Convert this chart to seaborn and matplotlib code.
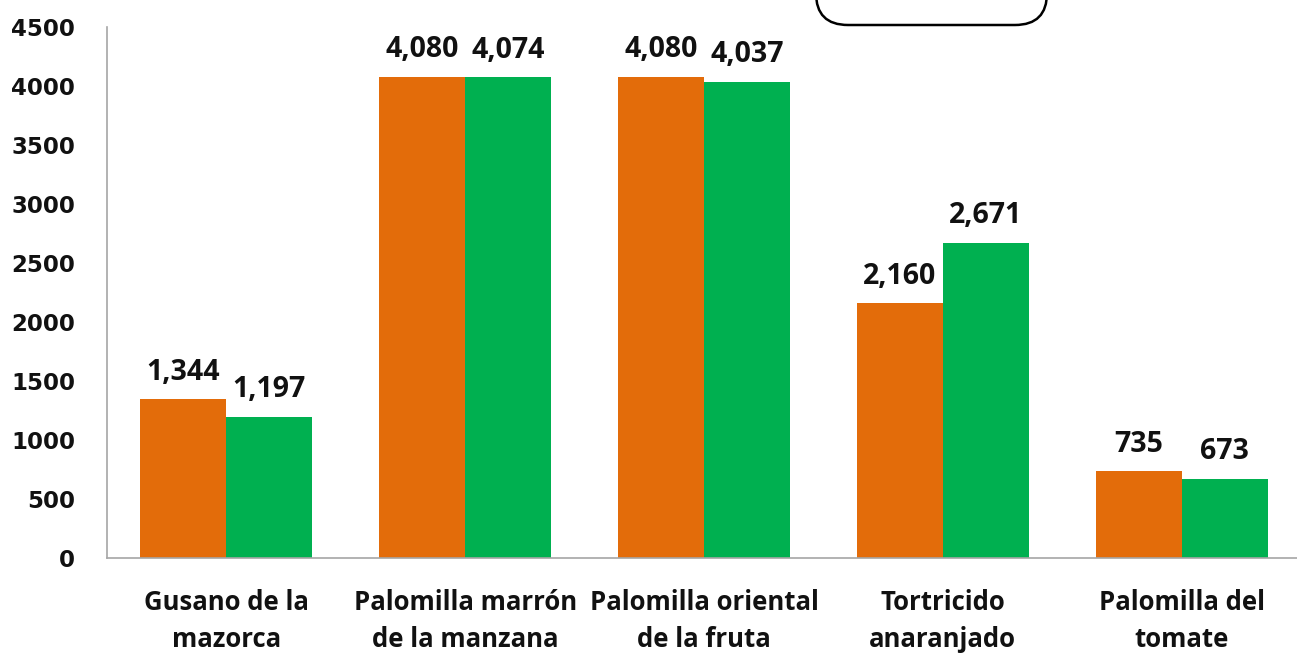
import matplotlib
matplotlib.use("Agg")
import matplotlib.pyplot as plt
import seaborn as sns
import pandas as pd
from matplotlib.patches import FancyBboxPatch
from matplotlib.transforms import IdentityTransform

categories = ["Gusano de la\nmazorca", "Palomilla marrón\nde la manzana", "Palomilla oriental\nde la fruta",
              "Tortricido\nanaranjado", "Palomilla del\ntomate"]
series_names = ["Serie A", "Serie B"]
values_a = [1344, 4080, 4080, 2160, 735]
values_b = [1197, 4074, 4037, 2671, 673]
y_ticks = [0, 500, 1000, 1500, 2000, 2500, 3000, 3500, 4000, 4500]

df = pd.DataFrame({
    "cat": categories * 2,
    "serie": [series_names[0]] * 5 + [series_names[1]] * 5,
    "val": values_a + values_b,
})

sns.set_theme(style="white")
plt.rcParams["font.family"] = ["Open Sans", "DejaVu Sans"]

fig = plt.figure(figsize=(12.97, 6.53), dpi=100)
ax = fig.add_axes([107/1297, 1-558/653, (1301-107)/1297, (558-27)/653])

sns.barplot(data=df, x="cat", y="val", hue="serie", order=categories, hue_order=series_names,
            palette=["#E36C0A", "#00B050"], width=0.72, gap=0, saturation=1, ax=ax, legend=False,
            linewidth=0, edgecolor="none")

for c in ax.containers:
    ax.bar_label(c, labels=[f"{v:,.0f}" for v in c.datavalues], padding=9,
                 fontsize=20.5, fontweight="bold", color="#111111")

ax.set_ylim(0, 4500)
ax.set_xlim(-0.5, 4.5)
ax.set_yticks(y_ticks)
ax.set_yticklabels([str(t) for t in y_ticks], fontsize=16.5, fontweight="bold", family="DejaVu Sans", color="#111111")
ax.set_xticklabels(categories, fontsize=18.5, fontweight="bold", color="#111111", linespacing=1.5)
ax.tick_params(axis="y", length=0, pad=23)
ax.tick_params(axis="x", length=0, pad=22)
ax.set_xlabel("")
ax.set_ylabel("")
for s in ["top", "right"]:
    ax.spines[s].set_visible(False)
for s in ["left", "bottom"]:
    ax.spines[s].set_color("#a6a6a6")
    ax.spines[s].set_linewidth(1.2)

box = FancyBboxPatch((816, 628), 231, 60, boxstyle="round,pad=0,rounding_size=32",
                     transform=IdentityTransform(), facecolor="white", edgecolor="black",
                     linewidth=1.8)
fig.patches.append(box)

fig.savefig("out.png", dpi=100)
